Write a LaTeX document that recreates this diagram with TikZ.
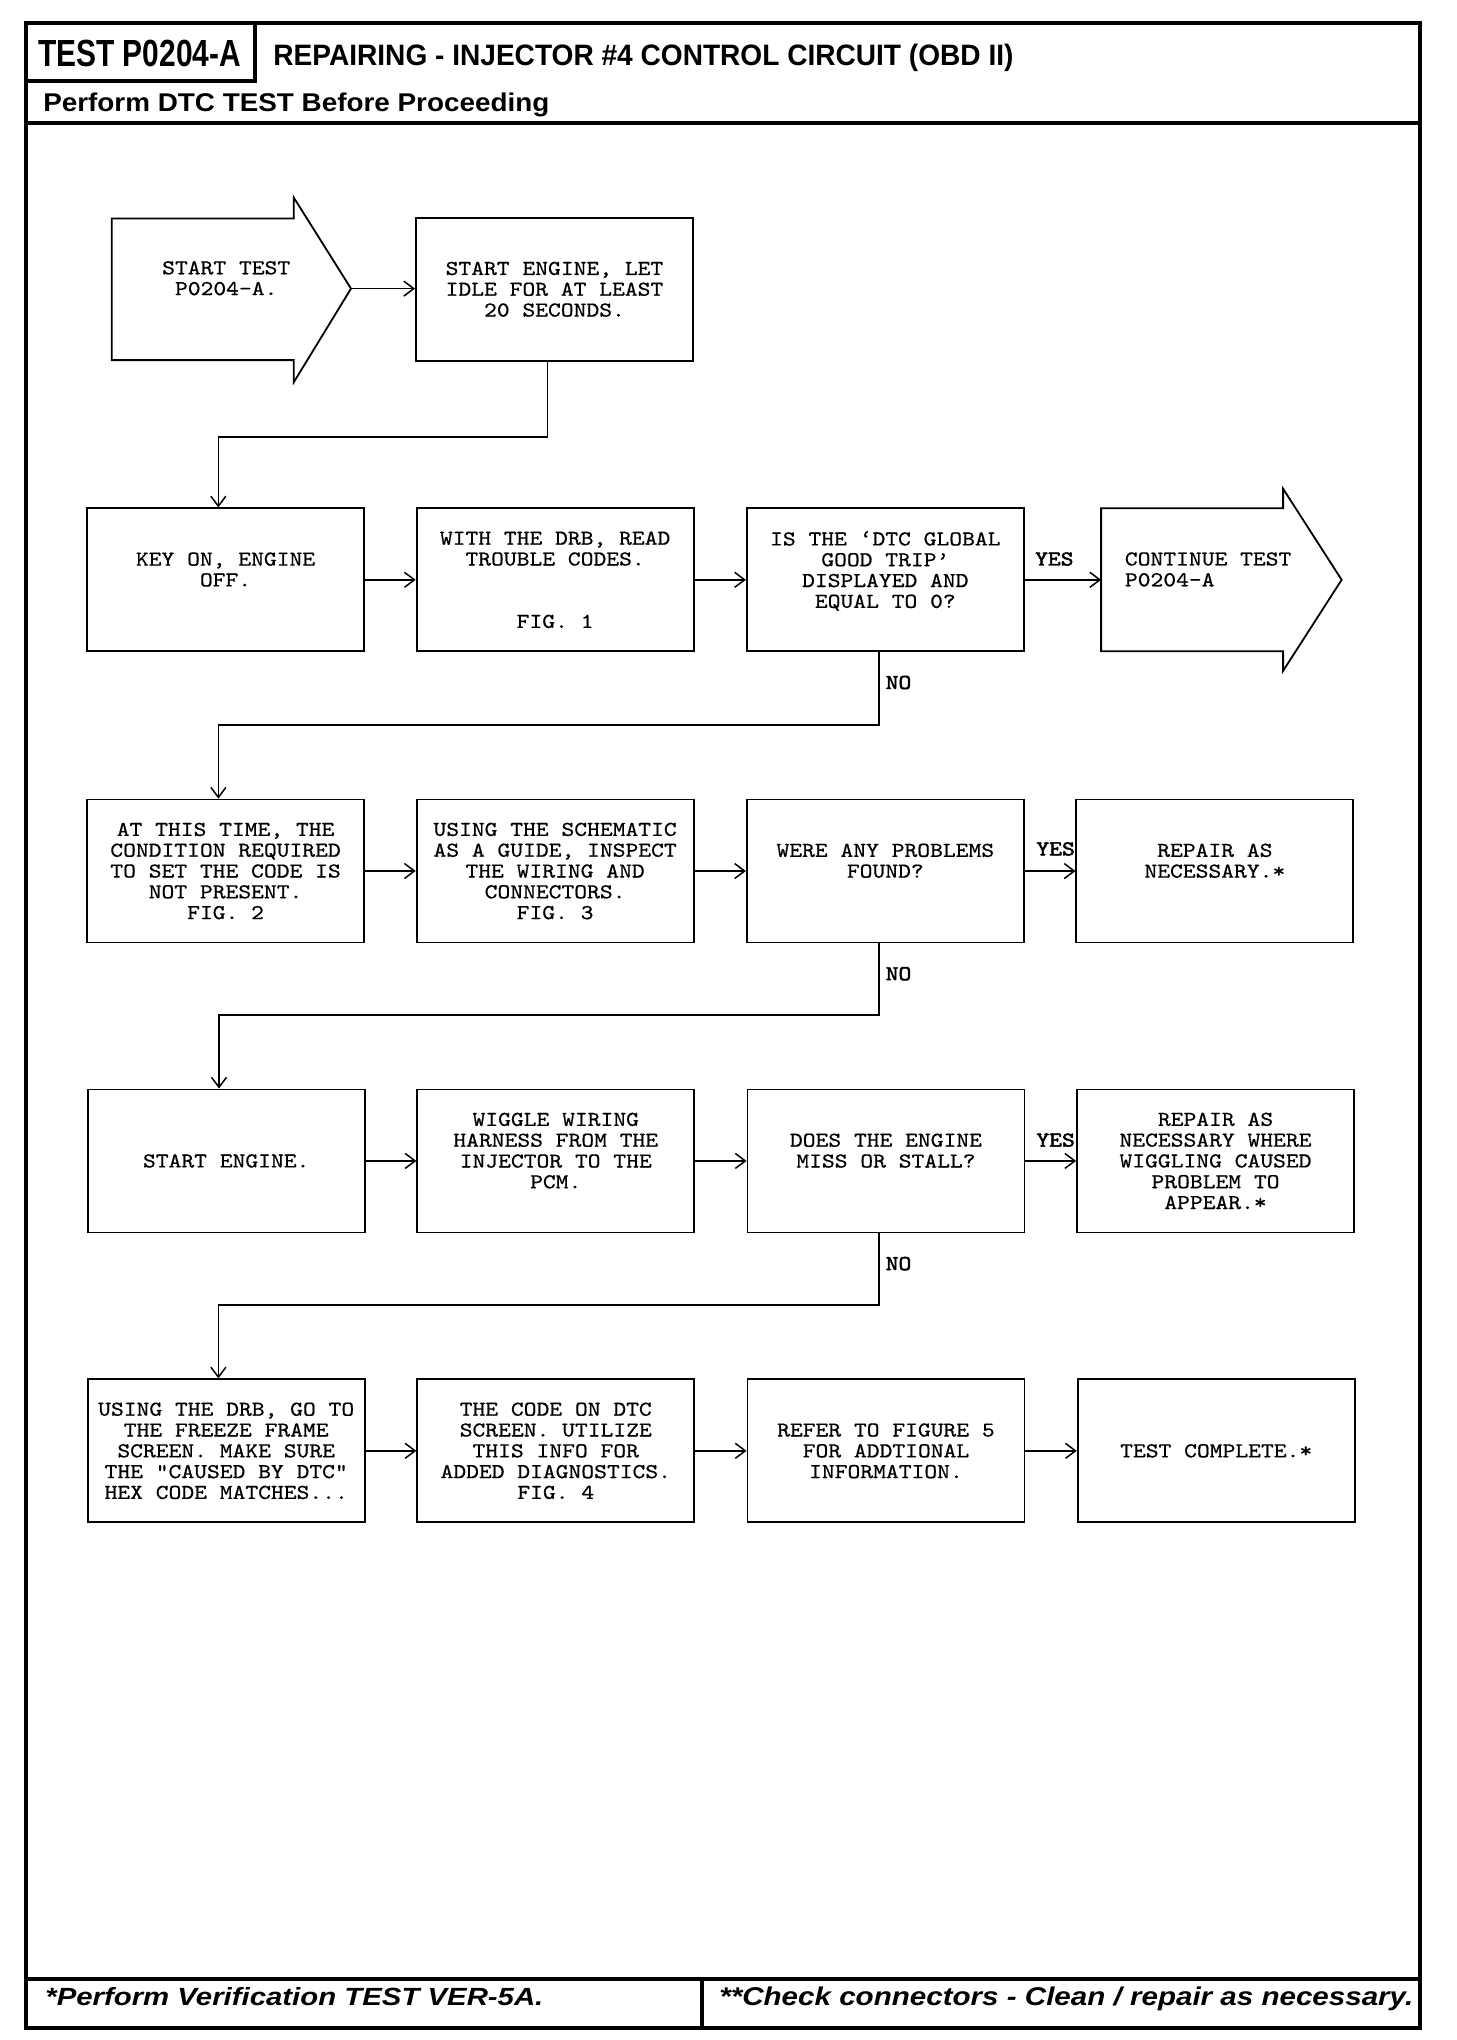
\documentclass[tikz,border=0pt]{standalone}
\usepackage{fontspec}
\setmainfont{Liberation Sans}
\newfontfamily\mono[FakeStretch=1.15,FakeBold=0.6]{Latin Modern Mono}
\newfontfamily\monob[FakeStretch=1.15,FakeBold=2.2]{Latin Modern Mono}
\usetikzlibrary{arrows.meta,calc}
\begin{document}
\begin{tikzpicture}[x=0.65pt,y=-0.65pt,
  box/.style={draw,line width=0.9pt,minimum width=138.5pt,minimum height=71.5pt,inner sep=0pt,align=center,font=\mono\fontsize{10.6pt}{10.4pt}\selectfont},
  txt/.style={inner sep=0pt,align=center,font=\mono\fontsize{10.6pt}{10.4pt}\selectfont},
  lbl/.style={inner sep=0pt,font=\monob\fontsize{10.6pt}{10.4pt}\selectfont},
  conn/.style={line width=0.75pt,-{Straight Barb[length=5pt,width=7.5pt]}},
  bigarrow/.style={draw,line width=0.9pt},
  frame/.style={line width=2pt},
  hdr/.style={anchor=base west,inner sep=0pt}
  ]
\useasboundingbox (0,0) rectangle (1120,1569.2);
% frame
\draw[frame] (20,17.7) rectangle (1092,1560);
\draw[frame] (196,17.7) -- (196,62.3) -- (20,62.3);
\draw[frame] (20,94.6) -- (1092,94.6);
\draw[frame] (20,1522.3) -- (1092,1522.3);
\draw[frame] (540,1522.3) -- (540,1560);
% header texts
\node[hdr] (ttest) at (29,51.5) {\resizebox{101.5pt}{13.2pt}{\bfseries TEST P0204-A}};
\node[hdr] (ttitle) at (210,50) {\resizebox{370pt}{10.7pt}{\bfseries REPAIRING - INJECTOR \#4 CONTROL CIRCUIT (OBD II)}};
\node[hdr] (tperf) at (33,85.4) {\resizebox{253pt}{9.3pt}{\bfseries Perform DTC TEST Before Proceeding}};
% footer texts
\node[hdr] (fleft) at (34.6,1542.3) {\resizebox{249pt}{9pt}{\bfseries\itshape *Perform Verification TEST VER-5A.}};
\node[hdr] (fright) at (553,1542.3) {\resizebox{347pt}{9.3pt}{\bfseries\itshape **Check connectors - Clean / repair as necessary.}};

% row 1
\draw[bigarrow] (86,168) -- (226,168) -- (226,152) -- (270,222) -- (226,294) -- (226,277) -- (86,277) -- cycle;
\coordinate (starttip) at (270,222);
\node[txt] (st) at (174,214) {START TEST\\P0204-A.};
\node[box] (b1) at (426.5,222.5) {START ENGINE, LET\\IDLE FOR AT LEAST\\20 SECONDS.};

% row 2
\node[box] (c1) at (173.5,446) {KEY ON, ENGINE\\OFF.\\~};
\node[box] (c2) at (427,446) {WITH THE DRB, READ\\TROUBLE CODES.\\~\\~\\FIG. 1};
\node[box] (c3) at (681,446) {IS THE ‘DTC GLOBAL\\GOOD TRIP’\\DISPLAYED AND\\EQUAL TO 0?\\~};
\draw[bigarrow] (847,391) -- (987,391) -- (987,376) -- (1032,446) -- (987,516) -- (987,501) -- (847,501) -- cycle;
\coordinate (conttail) at (847,446);
\node[txt,anchor=west,align=left] (ct) at (865,438) {CONTINUE TEST\\P0204-A};

% row 3
\node[box] (d1) at (173.5,670) {AT THIS TIME, THE\\CONDITION REQUIRED\\TO SET THE CODE IS\\NOT PRESENT.\\FIG. 2};
\node[box] (d2) at (427,670) {USING THE SCHEMATIC\\AS A GUIDE, INSPECT\\THE WIRING AND\\CONNECTORS.\\FIG. 3};
\node[box] (d3) at (681,670) {WERE ANY PROBLEMS\\FOUND?\\~};
\node[box] (d4) at (934.5,670) {REPAIR AS\\NECESSARY.*\\~};

% row 4
\node[box] (e1) at (174,893) {START ENGINE.};
\node[box] (e2) at (427.5,893) {WIGGLE WIRING\\HARNESS FROM THE\\INJECTOR TO THE\\PCM.\\~};
\node[box] (e3) at (681.5,893) {DOES THE ENGINE\\MISS OR STALL?\\~};
\node[box] (e4) at (935,893) {REPAIR AS\\NECESSARY WHERE\\WIGGLING CAUSED\\PROBLEM TO\\APPEAR.*};

% row 5
\node[box] (f1) at (174,1116) {USING THE DRB, GO TO\\THE FREEZE FRAME\\SCREEN. MAKE SURE\\THE "CAUSED BY DTC"\\HEX CODE MATCHES...};
\node[box] (f2) at (427.5,1116) {THE CODE ON DTC\\SCREEN. UTILIZE\\THIS INFO FOR\\ADDED DIAGNOSTICS.\\FIG. 4};
\node[box] (f3) at (681.5,1116) {REFER TO FIGURE 5\\FOR ADDTIONAL\\INFORMATION.};
\node[box] (f4) at (935.5,1116) {TEST COMPLETE.*};

% connectors
\draw[conn] (starttip) -- (starttip -| b1.west);
\draw[conn] ([xshift=-3.6pt]b1.south) -- ++(0,58) -| ([xshift=-3.6pt]c1.north);
\draw[conn] (c1) -- (c2);
\draw[conn] (c2) -- (c3);
\draw[conn] (c3.east) -- (conttail);
\node[lbl] (yes1) at (811,430) {YES};
\draw[conn] ([xshift=-3.25pt]c3.south) -- ++(0,56) -| ([xshift=-3.6pt]d1.north);
\node[lbl,anchor=west] (no1) at (681,525) {NO};

\draw[conn] (d1) -- (d2);
\draw[conn] (d2) -- (d3);
\draw[conn] (d3) -- (d4);
\node[lbl] (yes2) at (812,653) {YES};
\draw[conn] ([xshift=-3.25pt]d3.south) -- ++(0,55) -| ([xshift=-3.6pt]e1.north);
\node[lbl,anchor=west] (no2) at (681,749) {NO};

\draw[conn] (e1) -- (e2);
\draw[conn] (e2) -- (e3);
\draw[conn] (e3) -- (e4);
\node[lbl] (yes3) at (812,877) {YES};
\draw[conn] ([xshift=-3.55pt]e3.south) -- ++(0,55) -| ([xshift=-3.9pt]f1.north);
\node[lbl,anchor=west] (no3) at (681,972) {NO};

\draw[conn] (f1) -- (f2);
\draw[conn] (f2) -- (f3);
\draw[conn] (f3) -- (f4);
\end{tikzpicture}
\end{document}
